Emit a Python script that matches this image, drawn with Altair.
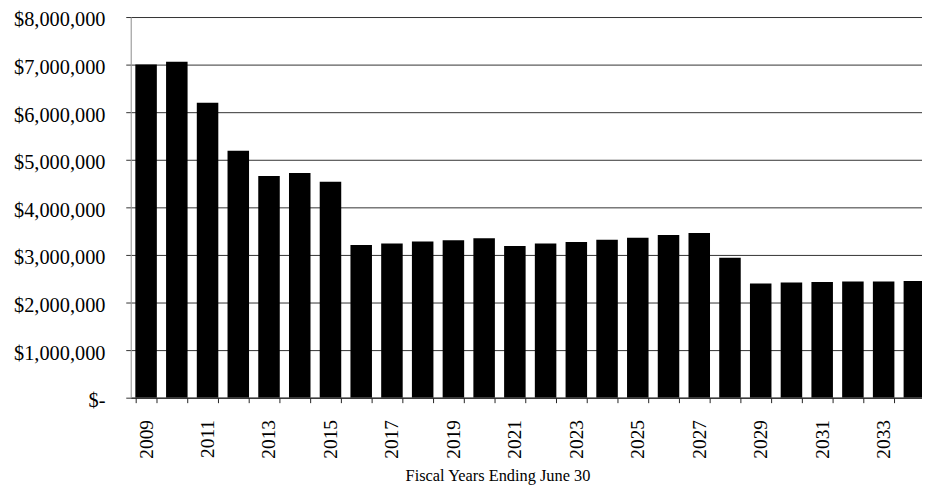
import altair as alt
import pandas as pd

years = [2009, 2010, 2011, 2012, 2013, 2014, 2015, 2016, 2017, 2018, 2019, 2020, 2021,
         2022, 2023, 2024, 2025, 2026, 2027, 2028, 2029, 2030, 2031, 2032, 2033, 2034]
amounts = [7000000, 7060000, 6200000, 5190000, 4660000, 4720000, 4540000, 3210000,
           3240000, 3280000, 3310000, 3350000, 3190000, 3240000, 3270000, 3320000,
           3360000, 3420000, 3460000, 2940000, 2400000, 2420000, 2430000, 2440000,
           2440000, 2450000]
y_ticks = [0, 1000000, 2000000, 3000000, 4000000, 5000000, 6000000, 7000000, 8000000]
x_title = "Fiscal Years Ending June 30"

df = pd.DataFrame({"year": years, "amount": amounts})

FONT = "Liberation Serif"

chart = alt.Chart(df).mark_bar(color="#000000", clip=True).encode(
    x=alt.X(
        "year:O",
        scale=alt.Scale(range=[0, 806], paddingInner=0.3, paddingOuter=0.15),
        axis=alt.Axis(
            title=x_title,
            labelAngle=-90,
            labelAlign="right",
            labelBaseline="middle",
            labelExpr="datum.value % 2 == 1 ? datum.label : ''",
            labelFont=FONT,
            labelFontSize=19.5,
            labelColor="#000000",
            labelPadding=17,
            tickBand="extent",
            tickExtra=False,
            tickSize=5,
            tickColor="#222222",
            domainColor="#222222",
            titleFont=FONT,
            titleFontSize=16.5,
            titleFontWeight="normal",
            titleColor="#000000",
            titleX=370,
            titleY=84,
            titleBaseline="alphabetic",
            grid=False,
        ),
    ),
    y=alt.Y(
        "amount:Q",
        scale=alt.Scale(domain=[0, 8000000], nice=False),
        axis=alt.Axis(
            title=None,
            values=y_ticks,
            labelExpr="datum.value == 0 ? '$-' : '$' + format(datum.value, ',')",
            labelFont=FONT,
            labelFontSize=20.5,
            labelColor="#000000",
            labelPadding=21,
            labelOffset=3,
            tickSize=5,
            tickColor="#333333",
            domainColor="#999999",
            grid=True,
            gridColor="#333333",
            gridWidth=1,
        ),
    ),
).properties(
    width=798.2,
    height=384,
    autosize=alt.AutoSizeParams(type="none"),
    padding={"left": 123.8, "top": 7, "right": 0, "bottom": 89},
).configure_view(strokeWidth=0).configure(background="#ffffff")

chart.save("out.html", embed_options={"renderer": "svg", "actions": False})
